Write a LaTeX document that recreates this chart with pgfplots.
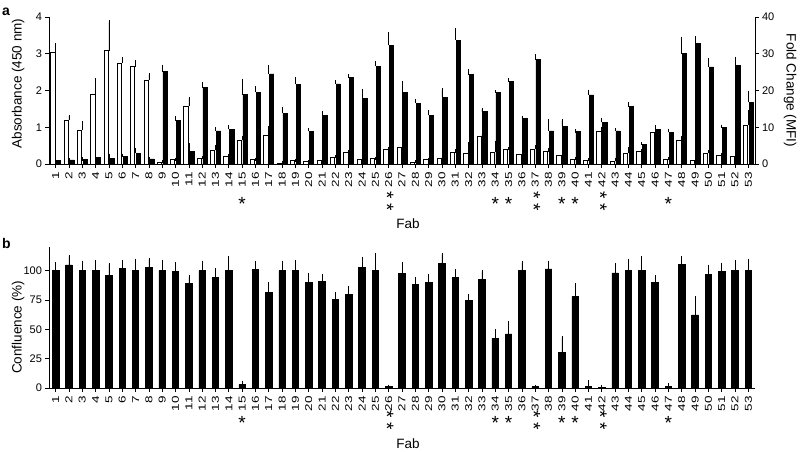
\documentclass[border=0pt]{standalone}
\usepackage{pgfplots}
\pgfplotsset{compat=1.18}
\usepackage{pgfplotstable}
\usepackage{fontspec}
\setmainfont{Liberation Sans}

\pgfplotstableread{
x abs abserr
1 3.05 0.20
2 1.20 0.10
3 0.92 0.20
4 1.90 0.40
5 3.08 0.79
6 2.75 0.12
7 2.65 0.15
8 2.28 0.14
9 0.05 0.01
10 0.12 0.01
11 1.58 0.20
12 0.15 0.02
13 0.38 0.10
14 0.20 0.02
15 0.65 0.08
16 0.12 0.01
17 0.79 0.19
18 0.03 0.01
19 0.09 0.01
20 0.06 0.01
21 0.10 0.01
22 0.19 0.01
23 0.33 0.01
24 0.13 0.01
25 0.15 0.01
26 0.40 0.02
27 0.44 0.02
28 0.05 0.02
29 0.12 0.01
30 0.16 0.02
31 0.31 0.06
32 0.28 0.28
33 0.76 0.05
34 0.33 0.26
35 0.41 0.01
36 0.25 0.02
37 0.41 0.06
38 0.34 0.06
39 0.24 0.01
40 0.14 0.01
41 0.11 0.01
42 0.90 0.07
43 0.07 0.06
44 0.29 0.12
45 0.35 0.01
46 0.86 0.06
47 0.14 0.01
48 0.65 0.06
49 0.11 0.02
50 0.29 0.04
51 0.23 0.02
52 0.20 0.01
53 1.05 0.38
}\absdata

\pgfplotstableread{
x fold folderr
1 0.9 0.05
2 1.1 0.05
3 1.3 0.05
4 1.7 0.8
5 1.5 0.7
6 2.0 0.3
7 2.9 0.9
8 1.4 0.05
9 25.1 1.5
10 11.8 0.9
11 3.5 1.8
12 20.8 1.1
13 9.0 0.5
14 9.4 0.8
15 18.9 3.9
16 19.5 1.2
17 24.5 1.9
18 13.8 1.2
19 21.7 1.6
20 8.9 0.4
21 13.2 0.7
22 21.8 0.6
23 23.5 0.5
24 17.8 2.2
25 26.6 0.9
26 32.3 3.1
27 19.5 2.6
28 16.6 0.6
29 13.2 1.0
30 18.2 2.0
31 33.7 3.0
32 24.3 1.0
33 14.2 0.7
34 19.4 0.3
35 22.4 0.5
36 12.4 0.3
37 28.4 1.0
38 9.0 2.8
39 10.3 1.5
40 8.8 0.2
41 18.8 1.0
42 11.3 0.9
43 9.0 0.3
44 15.6 0.9
45 5.4 0.1
46 9.3 0.8
47 8.6 0.6
48 30.0 4.0
49 32.7 1.6
50 26.4 2.0
51 9.9 0.4
52 26.8 2.0
53 16.8 2.7
}\folddata

\pgfplotstableread{
x conf conferr
1 100 5.7
2 104.8 7
3 100 7
4 100 8
5 95.7 9.3
6 101.7 6
7 100 8.8
8 102.8 6.6
9 100 8
10 99 7
11 89 5.6
12 100 7
13 94.3 6.6
14 100 10.8
15 2.8 2
16 100.6 6.2
17 81.5 7.1
18 100 6.8
19 100 8
20 90 6.6
21 90.6 5.4
22 75.6 5.1
23 79.5 6
24 102.6 7.9
25 100 13.6
26 1 0.5
27 97.7 8.3
28 88.4 5.1
29 90 5.7
30 106.2 7.4
31 94.3 5.4
32 74.4 4.6
33 92.6 6.4
34 42.3 6.3
35 46 9.4
36 100 6.5
37 1 0.5
38 101.4 5.6
39 30 13
40 77.6 10.2
41 1 4.4
42 0.5 0.5
43 98 7
44 100 8.8
45 100 10.8
46 89.8 5.1
47 1.5 1.5
48 105 6
49 62.2 14.5
50 96.9 6.8
51 99 6.4
52 100 8
53 100 8.8
}\confdata

\pgfplotsset{
  myax/.style={
    scale only axis, width=706pt, xmin=0.5, xmax=53.5,
    tick align=outside, major tick length=3.5pt,
    every tick/.style={black, line width=0.7pt},
    axis line style={-, line width=0.8pt},
    ticklabel style={font=\fontsize{11}{11}\selectfont},
    /pgf/number format/assume math mode=true,
    label style={font=\fontsize{13.5}{13.5}\selectfont},
    clip=false,
  },
  xlabs/.style={xtick={1,...,53},
    xticklabel style={font=\fontsize{10}{10}\selectfont, rotate=90, xscale=1.35, anchor=east}},
  ebar/.style={error bars/.cd, y dir=plus, y explicit,
    error bar style={line width=0.7pt, black},
    error mark options={line width=0.7pt, mark size=1.6pt, black}},
}
\tikzset{
  ast/.style={anchor=base, inner sep=0pt, font=\fontsize{19}{19}\selectfont},
  % two stacked asterisks, set as one vertical line of text
  ast2/.style={anchor=base, inner sep=0pt, font=\fontsize{19}{19}\selectfont,
    xshift=-8.2pt, yshift=#1, rotate=-90},
}

\begin{document}
\begin{tikzpicture}
\path[use as bounding box] (0pt,0pt) rectangle (800pt,-451pt);

% ---------- panel a, left axis (absorbance)
\begin{axis}[myax, at={(49pt,-164pt)}, anchor=south west, height=147pt,
  ymin=0, ymax=4, ytick={0,1,2,3,4},
  axis x line*=bottom, axis y line*=left, xlabs,
  ylabel={Absorbance (450 nm)},
  ylabel style={at={(axis description cs:-0.0439,0.548)}, anchor=center},
  xlabel={Fab},
  xlabel style={at={(axis description cs:0.5,0)}, anchor=base, yshift=-64pt, xshift=6pt},
]
\addplot[ybar, bar width=4.3pt, bar shift=-2.9pt, fill=white, draw=black, line width=0.7pt, ebar]
  table[x=x, y=abs, y error=abserr] {\absdata};
\pgfplotsinvokeforeach{15,34,35,39,40,47}{\node[ast, yshift=-46.5pt] at (axis cs:#1,0) {*};}
\pgfplotsinvokeforeach{26,37,42}{\node[ast2=-37pt] at (axis cs:#1,0) {*\kern4.6pt*};}
\end{axis}

% ---------- panel a, right axis (fold change)
\begin{axis}[myax, at={(49pt,-164pt)}, anchor=south west, height=147pt,
  ymin=0, ymax=40, ytick={0,10,20,30,40},
  axis y line*=right, axis x line=none,
  ylabel={Fold Change (MFI)},
  ylabel style={at={(axis description cs:1.0496,0.5)}, anchor=center, rotate=180},
]
\addplot[ybar, bar width=4.3pt, bar shift=2.9pt, fill=black, draw=black, line width=0.7pt, ebar]
  table[x=x, y=fold, y error=folderr] {\folddata};
\end{axis}

% ---------- panel b
\begin{axis}[myax, at={(49pt,-388pt)}, anchor=south west, height=141pt,
  ymin=0, ymax=120, ytick={0,25,50,75,100},
  axis x line*=bottom, axis y line*=left, xlabs,
  ylabel={Confluence (\%)},
  ylabel style={at={(axis description cs:-0.0439,0.43)}, anchor=center},
  xlabel={Fab},
  xlabel style={at={(axis description cs:0.5,0)}, anchor=base, yshift=-60pt, xshift=6pt},
]
\addplot[ybar, bar width=6.5pt, bar shift=0pt, fill=black, draw=black, line width=0.7pt, ebar]
  table[x=x, y=conf, y error=conferr] {\confdata};
\pgfplotsinvokeforeach{15,34,35,39,40,47}{\node[ast, yshift=-41pt] at (axis cs:#1,0) {*};}
\pgfplotsinvokeforeach{26,37,42}{\node[ast2=-32pt] at (axis cs:#1,0) {*\kern4.6pt*};}
\end{axis}

\node[anchor=base west, inner sep=0pt, font=\fontsize{14}{14}\selectfont\bfseries] at (2pt,-15pt) {a};
\node[anchor=base west, inner sep=0pt, font=\fontsize{14}{14}\selectfont\bfseries] at (2pt,-248pt) {b};
\end{tikzpicture}
\end{document}
